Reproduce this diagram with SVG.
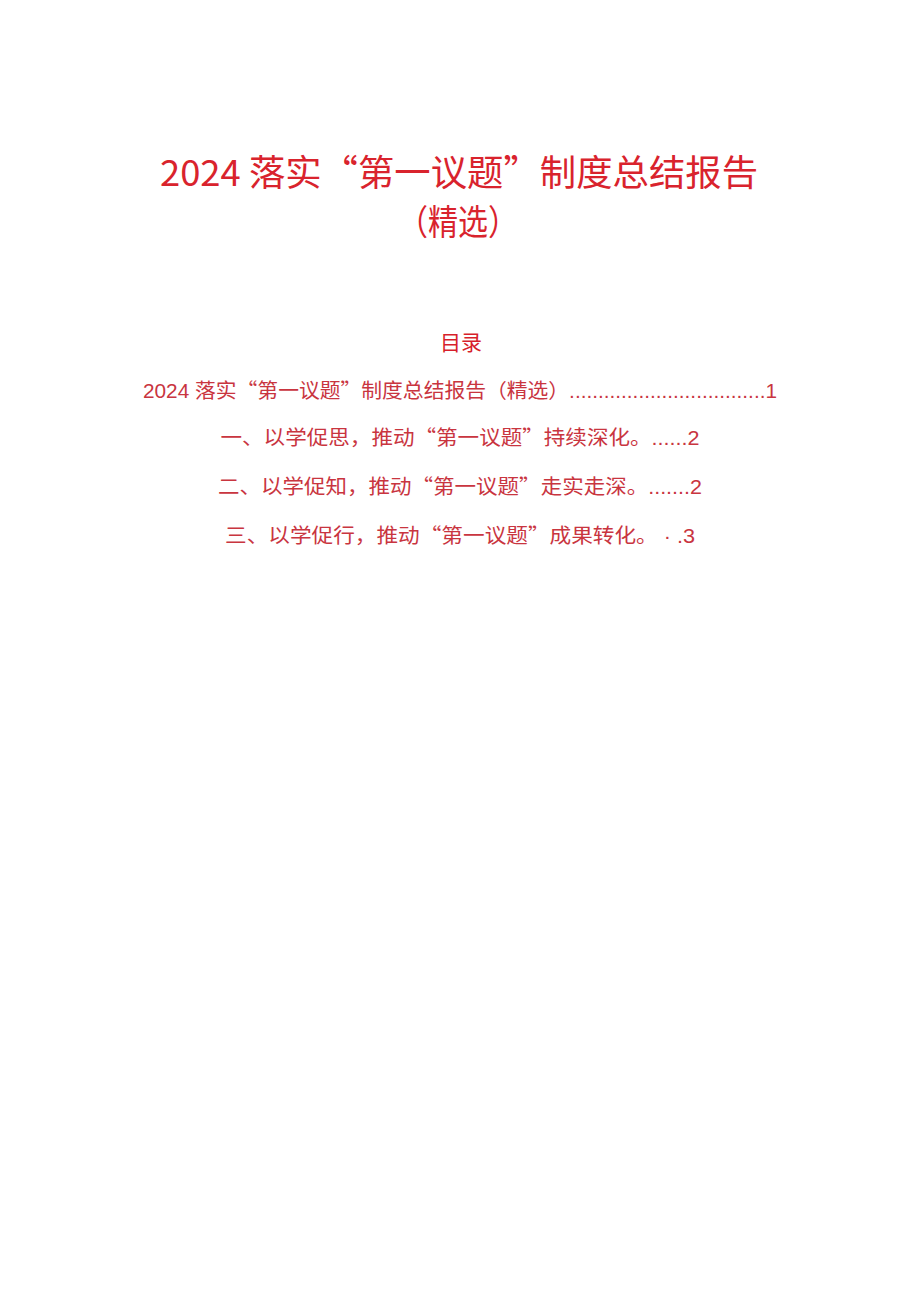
<svg xmlns="http://www.w3.org/2000/svg" width="920" height="1301" viewBox="0 0 920 1301">
<style>
.t{font-family:"Noto Sans CJK SC","Noto Sans CJK JP",sans-serif;fill:#d9232d;text-anchor:middle}
.h{font-family:"Liberation Sans","Noto Sans CJK SC",sans-serif;fill:#d71f2b;text-anchor:middle}
.e{font-family:"Liberation Sans","Noto Sans CJK SC",sans-serif;fill:#c9353f;text-anchor:middle}
.q{font-family:"Noto Sans CJK SC",sans-serif}
</style>
<rect width="920" height="1301" fill="#ffffff"/>
<g id="title">
<text class="t" x="459" y="186" font-size="36" textLength="598" lengthAdjust="spacingAndGlyphs">2024 落实“第一议题”制度总结报告</text>
<text class="t" x="458" y="235" font-size="35" textLength="120" lengthAdjust="spacingAndGlyphs">（精选）</text>
</g>
<g id="toc">
<text class="h" x="461" y="350" font-size="21">目录</text>
<text class="e" x="460" y="398" font-size="20" textLength="634" lengthAdjust="spacingAndGlyphs">2024 落实<tspan class="q">“</tspan>第一议题<tspan class="q">”</tspan>制度总结报告（精选）..................................1</text>
<text class="e" x="460" y="445" font-size="20" textLength="479" lengthAdjust="spacingAndGlyphs">一、以学促思，推动<tspan class="q">“</tspan>第一议题<tspan class="q">”</tspan>持续深化。......2</text>
<text class="e" x="460" y="494" font-size="20" textLength="484" lengthAdjust="spacingAndGlyphs">二、以学促知，推动<tspan class="q">“</tspan>第一议题<tspan class="q">”</tspan>走实走深。.......2</text>
<text class="e" x="460" y="543" font-size="20" textLength="470" lengthAdjust="spacingAndGlyphs">三、以学促行，推动<tspan class="q">“</tspan>第一议题<tspan class="q">”</tspan>成果转化。 · .3</text>
</g>
</svg>
